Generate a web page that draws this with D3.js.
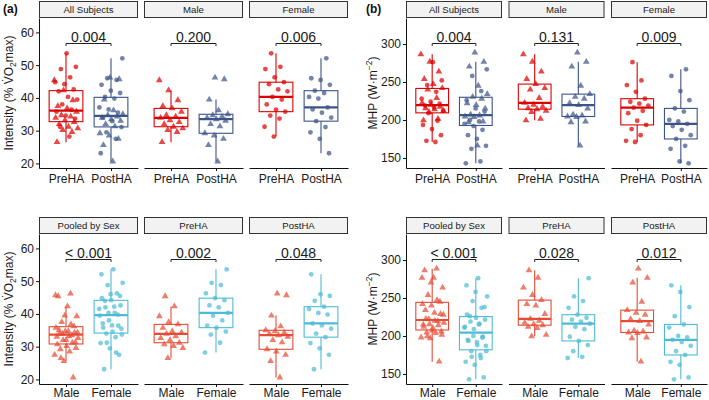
<!DOCTYPE html>
<html><head><meta charset="utf-8">
<script src="https://cdn.jsdelivr.net/npm/d3@7"></script>
<style>
body{margin:0;background:#fff}
svg{display:block}
text{font-family:"Liberation Sans",Arial,Helvetica,sans-serif}
</style>
</head><body>
<svg id="c" width="709" height="400"></svg>
<script>
// ---------------- DATA ----------------
// Relative exercise intensity (% VO2max), per subject group
const intensityMalePre    = [26.5, 29.6, 30.2, 30.7, 31.2, 32.0, 32.6, 33.2, 33.9, 34.3, 34.7, 35.8, 36.8, 37.5, 39.3, 42.3, 45.4];
const intensityMalePost   = [20.6, 25.6, 27.5, 28.5, 29.2, 31.3, 32.0, 33.0, 33.5, 33.9, 34.3, 34.7, 35.0, 36.2, 39.5, 45.7, 46.2];
const intensityFemalePre  = [28.2, 31.2, 33.7, 34.6, 35.8, 36.4, 38.0, 39.5, 40.3, 42.0, 42.6, 44.2, 44.8, 46.3, 48.8, 49.5, 53.6];
const intensityFemalePost = [23.1, 27.5, 29.5, 31.1, 32.9, 34.0, 35.5, 36.5, 37.1, 39.8, 40.3, 41.5, 42.2, 44.0, 45.5, 46.0, 52.1];
// Metabolic heat production (W·m-2)
const mhpMalePre    = [199.5, 201.5, 210.5, 212.0, 214.2, 215.5, 217.5, 220.0, 222.5, 229.0, 240.0, 242.0, 247.2, 254.0, 263.6, 276.7, 286.4];
const mhpMalePost   = [166.2, 197.0, 198.0, 204.0, 204.6, 206.0, 207.0, 215.0, 219.6, 222.0, 228.0, 230.5, 234.0, 245.0, 270.2, 276.5, 288.6];
const mhpFemalePre  = [171.0, 172.5, 180.0, 188.0, 193.5, 199.0, 209.0, 212.0, 216.2, 219.0, 221.5, 224.0, 228.0, 237.0, 246.0, 252.0, 276.0];
const mhpFemalePost = [143.0, 145.5, 162.0, 166.0, 175.0, 180.0, 187.0, 192.0, 195.0, 198.0, 200.0, 211.0, 215.2, 226.0, 238.0, 258.0, 266.7];

const stripsTop = ["All Subjects", "Male", "Female"];
const stripsBottom = ["Pooled by Sex", "PreHA", "PostHA"];
const timeCats = ["PreHA", "PostHA"];
const sexCats = ["Male", "Female"];

const pIntensityTop = ["0.004", "0.200", "0.006"];
const pIntensityBottom = ["< 0.001", "0.002", "0.048"];
const pMhpTop = ["0.004", "0.131", "0.009"];
const pMhpBottom = ["< 0.001", "0.028", "0.012"];

const intensityTicks = [20, 30, 40, 50, 60];
const intensityDomain = [18.6, 64.4];
const mhpTicks = [150, 200, 250, 300];
const mhpDomain = [136.8, 334.2];

// ---------------- STYLE ----------------
const colPre = "#DC0000", colPost = "#3C5488", colMale = "#E64B35", colFemale = "#4DBBD5";
const svg = d3.select("#c");

function stats(vals) {
  const s = vals.slice().sort(d3.ascending);
  const q1 = d3.quantileSorted(s, 0.25), med = d3.quantileSorted(s, 0.5), q3 = d3.quantileSorted(s, 0.75);
  const iqr = q3 - q1, lo = q1 - 1.5 * iqr, hi = q3 + 1.5 * iqr;
  return {q1, med, q3, wlo: d3.min(s.filter(v => v >= lo)), whi: d3.max(s.filter(v => v <= hi))};
}
const tag = (arr, sex) => arr.map(v => ({v, sex}));

const triSym = d3.symbol().type(d3.symbolTriangle).size(20);
const cirSym = d3.symbol().type(d3.symbolCircle).size(18);

function panel(o) {
  const g = svg.append("g").attr("transform", `translate(${o.left},${o.top})`);
  const x = d3.scalePoint().domain(o.cats).range([0, o.width]).padding(0.6);
  const y = d3.scaleLinear().domain(o.domain).range([o.height, 0]);
  const step = x.step(), bw = step * 0.75;

  // strip
  g.append("rect").attr("x", 0.5).attr("y", -16.5).attr("width", o.width - 1).attr("height", 16)
    .attr("fill", "#F2F2F2").attr("stroke", "#333").attr("stroke-width", 1);
  g.append("text").attr("x", o.width / 2).attr("y", -5.3).attr("text-anchor", "middle")
    .attr("font-size", 9.6).attr("fill", "#1a1a1a").text(o.strip);

  // x axis
  const xa = g.append("g").attr("transform", `translate(0,${o.height})`)
    .call(d3.axisBottom(x).tickSize(3).tickSizeOuter(0).tickPadding(o.xPad));
  xa.selectAll("text").attr("font-size", 12).attr("fill", "#1a1a1a").attr("font-family", null);
  xa.selectAll("line,path").attr("stroke", "#111");

  if (o.showY) {
    const ya = g.append("g").call(d3.axisLeft(y).tickValues(o.ticks).tickSize(3).tickSizeOuter(0).tickPadding(2));
    ya.selectAll("text").attr("font-size", 12).attr("fill", "#1a1a1a").attr("font-family", null);
    ya.selectAll("line,path").attr("stroke", "#111");
  }

  o.boxes.forEach((b, bi) => {
    const cx = x(o.cats[bi]);
    const s = stats(b.points.map(d => d.v));
    const bgp = g.append("g").attr("stroke", b.color).attr("fill", "none");
    bgp.append("line").attr("x1", cx).attr("x2", cx).attr("y1", y(s.q3)).attr("y2", y(s.whi)).attr("stroke-width", 1.1);
    bgp.append("line").attr("x1", cx).attr("x2", cx).attr("y1", y(s.q1)).attr("y2", y(s.wlo)).attr("stroke-width", 1.1);
    bgp.append("rect").attr("x", cx - bw / 2).attr("y", y(s.q3)).attr("width", bw)
      .attr("height", y(s.q1) - y(s.q3)).attr("stroke-width", 1.1);
    bgp.append("line").attr("x1", cx - bw / 2).attr("x2", cx + bw / 2)
      .attr("y1", y(s.med)).attr("y2", y(s.med)).attr("stroke-width", 2.2);
    // jittered points (deterministic low-discrepancy spread)
    g.append("g").selectAll("path").data(b.points).join("path")
      .attr("d", d => d.sex === "M" ? triSym() : cirSym())
      .attr("transform", (d, i) => {
        const off = (((i * 0.6180339887 + b.seed) % 1) - 0.5) * 2 * 0.27 * step;
        return `translate(${cx + off},${y(d.v)})`;
      })
      .attr("fill", b.color).attr("fill-opacity", 0.72);
  });

  // p-value bracket
  const by = o.height * 0.17, x1 = x(o.cats[0]), x2 = x(o.cats[1]);
  g.append("path").attr("d", `M${x1},${by + 2.5}V${by}H${x2}V${by + 2.5}`)
    .attr("fill", "none").attr("stroke", "#222").attr("stroke-width", 1);
  g.append("text").attr("x", (x1 + x2) / 2).attr("y", by - 2).attr("text-anchor", "middle")
    .attr("font-size", 14).attr("fill", "#1a1a1a").text(o.p);
}

const aLefts = [39, 144, 249], aW = 99;
const bLefts = [406, 508.5, 611], bW = 96;
const rowTop = 18, rowBot = 234, ph = 150;

function block(lefts, w, domain, ticks, MPre, MPost, FPre, FPost, pTop, pBot) {
  const topBoxes = [
    [{points: tag(MPre, "M").concat(tag(FPre, "F")), color: colPre, seed: 0.13},
     {points: tag(MPost, "M").concat(tag(FPost, "F")), color: colPost, seed: 0.57}],
    [{points: tag(MPre, "M"), color: colPre, seed: 0.13},
     {points: tag(MPost, "M"), color: colPost, seed: 0.57}],
    [{points: tag(FPre, "F"), color: colPre, seed: 0.41},
     {points: tag(FPost, "F"), color: colPost, seed: 0.83}]
  ];
  const botBoxes = [
    [{points: tag(MPre, "M").concat(tag(MPost, "M")), color: colMale, seed: 0.29},
     {points: tag(FPre, "F").concat(tag(FPost, "F")), color: colFemale, seed: 0.71}],
    [{points: tag(MPre, "M"), color: colMale, seed: 0.37},
     {points: tag(FPre, "F"), color: colFemale, seed: 0.05}],
    [{points: tag(MPost, "M"), color: colMale, seed: 0.66},
     {points: tag(FPost, "F"), color: colFemale, seed: 0.21}]
  ];
  lefts.forEach((l, i) => {
    panel({left: l, top: rowTop, width: w, height: ph, domain, ticks, cats: timeCats, xPad: 3,
      strip: stripsTop[i], boxes: topBoxes[i], p: pTop[i], showY: i === 0});
    panel({left: l, top: rowBot, width: w, height: ph, domain, ticks, cats: sexCats, xPad: 1,
      strip: stripsBottom[i], boxes: botBoxes[i], p: pBot[i], showY: i === 0});
  });
}

block(aLefts, aW, intensityDomain, intensityTicks,
  intensityMalePre, intensityMalePost, intensityFemalePre, intensityFemalePost, pIntensityTop, pIntensityBottom);
block(bLefts, bW, mhpDomain, mhpTicks,
  mhpMalePre, mhpMalePost, mhpFemalePre, mhpFemalePost, pMhpTop, pMhpBottom);

// y-axis titles
function intensityTitle(cx, cy) {
  const t = svg.append("text").attr("transform", `translate(${cx},${cy}) rotate(-90)`)
    .attr("text-anchor", "middle").attr("font-size", 12).attr("fill", "#1a1a1a");
  t.append("tspan").text("Intensity (% V\u0307O");
  t.append("tspan").attr("font-size", 8.5).attr("dy", 2.5).text("2");
  t.append("tspan").attr("dy", -2.5).text("max)");
}
function mhpTitle(cx, cy) {
  const t = svg.append("text").attr("transform", `translate(${cx},${cy}) rotate(-90)`)
    .attr("text-anchor", "middle").attr("font-size", 12).attr("fill", "#1a1a1a");
  t.append("tspan").text("MHP (W\u00B7m");
  t.append("tspan").attr("font-size", 8.5).attr("dy", -5).text("\u22122");
  t.append("tspan").attr("dy", 5).text(")");
}
intensityTitle(13, 93);
intensityTitle(13, 309);
mhpTitle(377, 93);
mhpTitle(377, 309);

svg.append("text").attr("x", 3).attr("y", 13).attr("font-size", 12).attr("font-weight", "bold").attr("fill", "#111").text("(a)");
svg.append("text").attr("x", 366).attr("y", 13).attr("font-size", 12).attr("font-weight", "bold").attr("fill", "#111").text("(b)");
</script>
</body></html>
